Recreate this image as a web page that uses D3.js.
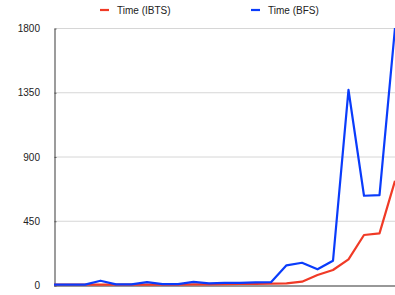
<!DOCTYPE html>
<html>
<head>
<meta charset="utf-8">
<script src="https://cdn.jsdelivr.net/npm/d3@7"></script>
<style>
  body { margin: 0; background: #fff; }
  svg { display: block; font-family: "Liberation Sans", Arial, sans-serif; }
</style>
</head>
<body>
<svg id="chart" width="395" height="295"></svg>
<script>
// values, one point per run
const runs = d3.range(23);
const timeIBTS = [2, 2, 2, 2, 2, 2, 3, 3, 3, 4, 5, 6, 7, 8, 10, 12, 23, 70, 105, 180, 350, 362, 730];
const timeBFS = [3, 3, 3, 30, 4, 4, 20, 6, 6, 22, 12, 15, 15, 18, 20, 138, 156, 110, 170, 1366, 625, 630, 1800];
const yTicks = [0, 450, 900, 1350, 1800];
const seriesNames = ["Time (IBTS)", "Time (BFS)"];
const seriesColors = ["#f03a26", "#0a3cfb"];

const svg = d3.select("#chart");
const plotLeft = 54, plotRight = 395, plotTop = 28, plotBottom = 285;

const x = d3.scaleLinear().domain([0, runs.length - 1]).range([plotLeft, plotRight]);
const y = d3.scaleLinear().domain([0, 1800]).range([plotBottom, plotTop]);

// gridlines
svg.append("g")
    .selectAll("line")
    .data(yTicks.slice(1))
    .enter()
    .append("line")
    .attr("x1", plotLeft).attr("x2", plotRight)
    .attr("y1", d => y(d) + 0.5).attr("y2", d => y(d) + 0.5)
    .attr("stroke", "#d6d6d6")
    .attr("stroke-width", 1);

// y axis with short ticks
const yAxis = svg.append("g")
    .attr("transform", `translate(${plotLeft + 0.5},0.5)`)
    .call(d3.axisRight(y).tickValues(yTicks).tickSize(2).tickSizeOuter(0).tickFormat(""));
yAxis.select(".domain").attr("stroke", "#5a5a5a").attr("stroke-width", 1.2);
yAxis.selectAll(".tick line").attr("stroke", "#5a5a5a");

svg.append("g")
    .selectAll("text")
    .data(yTicks)
    .enter()
    .append("text")
    .attr("x", 40)
    .attr("y", d => y(d) + 4)
    .attr("text-anchor", "end")
    .attr("font-size", "10px")
    .attr("fill", "#222")
    .text(d => d);

// x baseline
svg.append("line")
    .attr("x1", plotLeft).attr("x2", plotRight)
    .attr("y1", plotBottom + 1).attr("y2", plotBottom + 1)
    .attr("stroke", "#333")
    .attr("stroke-width", 1.2);

// lines
const line = d3.line()
    .x((d, i) => x(runs[i]))
    .y(d => y(d));

[timeIBTS, timeBFS].forEach(function(values, k) {
    svg.append("path")
        .datum(values)
        .attr("fill", "none")
        .attr("stroke", seriesColors[k])
        .attr("stroke-width", 2.2)
        .attr("stroke-linejoin", "round")
        .attr("d", line);
});

// legend
const legendX = [100, 251];
seriesNames.forEach(function(name, k) {
    svg.append("line")
        .attr("x1", legendX[k]).attr("x2", legendX[k] + 9)
        .attr("y1", 10).attr("y2", 10)
        .attr("stroke", seriesColors[k])
        .attr("stroke-width", 2.2);
    svg.append("text")
        .attr("x", legendX[k] + 17)
        .attr("y", 14)
        .attr("font-size", "10px")
        .attr("fill", "#222")
        .text(name);
});
</script>
</body>
</html>
